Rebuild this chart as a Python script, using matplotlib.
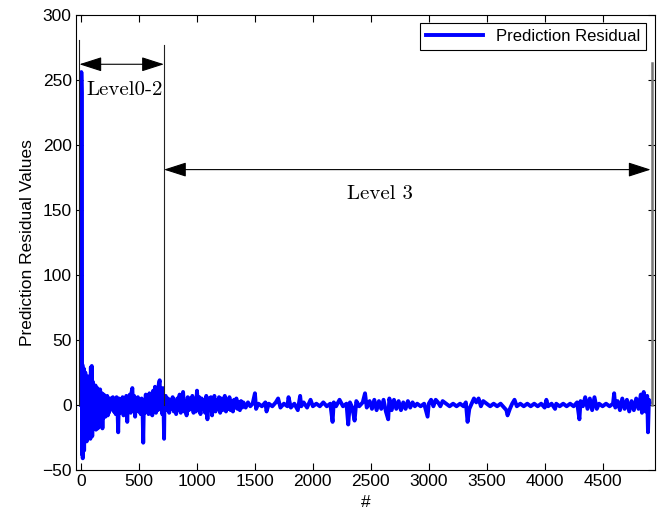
import matplotlib
matplotlib.use("Agg", force=True)
import matplotlib.pyplot as plt
import numpy as np

# residual trace (sample index, value)
seg_a_x = [0, 2, 5, 8, 11, 14, 17, 20, 23, 26,
           29, 32, 36, 40, 44, 48, 52, 56, 60, 64,
           68, 72, 76, 80, 84, 88, 92, 96, 100, 104,
           108, 112, 116, 120, 124, 128, 132, 136, 140, 144,
           148, 152, 156, 160, 164, 168, 172, 176, 180, 184,
           188, 192, 196, 200, 205, 210, 215, 220, 225, 230,
           235, 240, 245, 250]
seg_a_y = [0, 256, 240, -38, 31, -41, 22, -30, 28, -35,
           18, -22, 25, -18, 20, -28, 14, -25, 22, -12,
           16, -20, 12, -26, 29, -15, 30, -24, 18, -10,
           14, -16, 11, -9, 15, -19, 8, -12, 13, -18,
           9, -17, 10, -8, 12, -11, 7, -14, 9, -18,
           6, -10, 8, -7, 6, -9, 5, -6, 7, -8,
           4, -6, 5, -4]

seg_b_x = [258, 266, 274, 282, 290, 298, 306, 314, 320, 326,
           334, 342, 350, 358, 366, 374, 382, 390, 398, 404,
           412, 420, 428, 436, 442, 450, 458, 466, 474, 482,
           490, 498, 506, 514, 522, 530, 536, 542, 550, 558,
           566, 574, 582, 590, 598, 606, 614, 622, 630, 638,
           646, 654, 662, 670, 678, 684, 692, 700, 706, 712,
           716, 720]
seg_b_y = [5, -3, 6, -5, 4, -7, 6, -4, -21, 5,
           -6, 4, -3, 6, -8, 5, -4, 7, -13, 3,
           -5, 8, -6, 10, 13, -4, 7, -9, 5, -3,
           6, -5, 4, -7, 5, -3, -29, 4, -6, 8,
           -4, 5, -7, 9, -3, 6, -8, 11, -5, 14,
           -6, 12, -4, 16, 19, -3, 10, -7, 13, -5,
           -26, 6]

seg_c_x = [730, 740, 750, 760, 770, 780, 790, 800, 810, 820,
           830, 840, 850, 860, 870, 880, 890, 900, 910, 920,
           930, 940, 950, 960, 970, 980, 990, 1000, 1010, 1020,
           1030, 1040, 1050, 1060, 1070, 1080, 1090, 1100, 1110, 1120,
           1130, 1140, 1150, 1160, 1170, 1180, 1190, 1200, 1210, 1220,
           1230, 1240, 1250, 1260, 1270, 1280, 1290, 1300, 1310, 1320,
           1330, 1340, 1350, 1360, 1370, 1380, 1390, 1400]
seg_c_y = [7, -4, 5, -6, 4, -3, 6, -5, 3, -7,
           5, -4, 8, -6, 4, 10, -5, 3, -8, 6,
           -4, 5, -3, 7, -6, 4, -5, 11, -4, 6,
           -7, 5, -3, 4, -6, 7, -11, 5, -4, 6,
           -8, 3, 7, -5, 4, -3, 6, -6, 5, -4,
           3, 7, -5, 4, -3, 6, -4, 3, -5, 4,
           -2, 5, -3, 2, -4, 3, -2, 2]

seg_d_x = [1420, 1440, 1460, 1480, 1500, 1510, 1530, 1560, 1590, 1600,
           1620, 1650, 1680, 1700, 1720, 1750, 1780, 1790, 1810, 1840,
           1870, 1890, 1900, 1920, 1950, 1980, 2000, 2030, 2060, 2090,
           2120, 2150, 2170, 2180, 2200, 2230, 2260, 2290, 2305, 2320,
           2340, 2360, 2375, 2400, 2430, 2450, 2465, 2490, 2510, 2530,
           2550, 2570, 2590, 2610, 2630, 2650, 2660, 2680, 2700, 2720,
           2740, 2760, 2780, 2800, 2820, 2840, 2860, 2880, 2900, 2930,
           2960, 2990, 3000, 3020, 3040, 3060, 3080, 3100, 3120, 3150,
           3180, 3210, 3240, 3270, 3300, 3320, 3335, 3350, 3370, 3390,
           3410, 3430, 3450, 3470, 3500, 3530, 3560, 3590, 3620, 3650,
           3670, 3680, 3700, 3720, 3740, 3760, 3790, 3820, 3850, 3880,
           3910, 3940, 3970, 4000, 4015, 4030, 4060, 4090, 4100, 4130,
           4160, 4190, 4220, 4250, 4280, 4300, 4310, 4330, 4350, 4370,
           4390, 4410, 4430, 4450, 4470, 4500, 4530, 4560, 4590, 4600,
           4610, 4630, 4650, 4670, 4690, 4710, 4730, 4750, 4770, 4790,
           4810, 4830, 4840, 4855, 4870, 4885, 4892, 4900, 4908]
seg_d_y = [-2, 2, -1, 1, 9, -3, 1, -1, 2, -5,
           1, -1, 2, 5, -2, 1, -1, 6, -2, 1,
           -4, 7, -1, 2, -2, 4, -1, 1, -1, 2,
           -1, 1, -13, 2, -1, 4, -1, 1, -15, 2,
           -2, -12, 3, -1, 2, 9, -2, 3, -3, 4,
           -4, 3, -3, 4, -5, -11, 5, -4, 4, -3,
           3, -4, 2, -3, 3, -2, 2, -1, 1, -1,
           1, -9, 1, 4, -1, 4, 2, -1, 3, 1,
           -1, 1, -1, 1, -1, 2, -13, -3, 1, 5,
           2, 5, -1, 3, 1, -1, 1, -1, 1, -2,
           -4, -8, -3, 1, 4, -1, 1, -1, 1, -1,
           1, -1, 1, -2, 4, -1, 1, -3, 1, -1,
           1, -1, 1, -1, 2, -11, 3, -1, 6, -3,
           5, -4, 6, -3, 1, -1, 1, -1, 1, 9,
           -2, 3, -4, 5, -3, 4, -5, 3, -4, 5,
           -3, 8, -6, 10, -5, 7, -21, 4, 2]

# level boundaries (x position, top of marker line)
bound_x = [-15, 715, 4925]
bound_top = [281, 277, 263]

sample_no = np.array(seg_a_x + seg_b_x + seg_c_x + seg_d_x)
residual = np.array(seg_a_y + seg_b_y + seg_c_y + seg_d_y)

plt.rcParams['font.family'] = ['Liberation Sans', 'DejaVu Sans']

fig = plt.figure(figsize=(6.6, 5.14), dpi=100)
ax = fig.add_axes([0.115, 0.0856, 0.877, 0.8855])

ax.plot(sample_no, residual, color='#0000ff', linewidth=2.8,
        label='Prediction Residual', zorder=3)

# boundary lines
for bx, bt in zip(bound_x[:2], bound_top[:2]):
    ax.plot([bx, bx], [0, bt], color='#222222', linewidth=0.8, zorder=4)
ax.plot([bound_x[2], bound_x[2]], [0, bound_top[2]], color='#777777',
        linewidth=1.8, zorder=4)

arrow_kw = dict(arrowstyle='<|-|>,head_length=1.4,head_width=0.45',
                color='black', linewidth=0.8, shrinkA=0, shrinkB=0)
ax.annotate('', xy=(bound_x[0], 262), xytext=(bound_x[1], 262),
            arrowprops=arrow_kw, zorder=5)
ax.annotate('', xy=(bound_x[1], 181), xytext=(bound_x[2] - 10, 181),
            arrowprops=arrow_kw, zorder=5)

ax.text(45, 242, 'Level0-2', fontsize=15, family='cmr10',
        ha='left', va='center', zorder=5)
ax.text(2578, 162, 'Level 3', fontsize=15, family='cmr10',
        ha='center', va='center', zorder=5)

ax.set_xlim(-45, 4950)
ax.set_ylim(-50, 300)
ax.set_xticks(np.arange(0, 4501, 500))
ax.set_yticks(np.arange(-50, 301, 50))
ax.tick_params(direction='in', top=True, right=True, length=5,
               width=0.8, labelsize=12.5, pad=3)
for sp in ax.spines.values():
    sp.set_linewidth(0.8)

ax.set_xlabel('#', fontsize=12.5, labelpad=4)
ax.set_ylabel('Prediction Residual Values', fontsize=12.5, labelpad=5)

leg = ax.legend(loc='upper right', fontsize=12, fancybox=False,
                edgecolor='black', framealpha=1, handlelength=3.4,
                borderaxespad=0.5, borderpad=0.35)
leg.get_frame().set_linewidth(0.8)

fig.savefig('out.png', dpi=100)
